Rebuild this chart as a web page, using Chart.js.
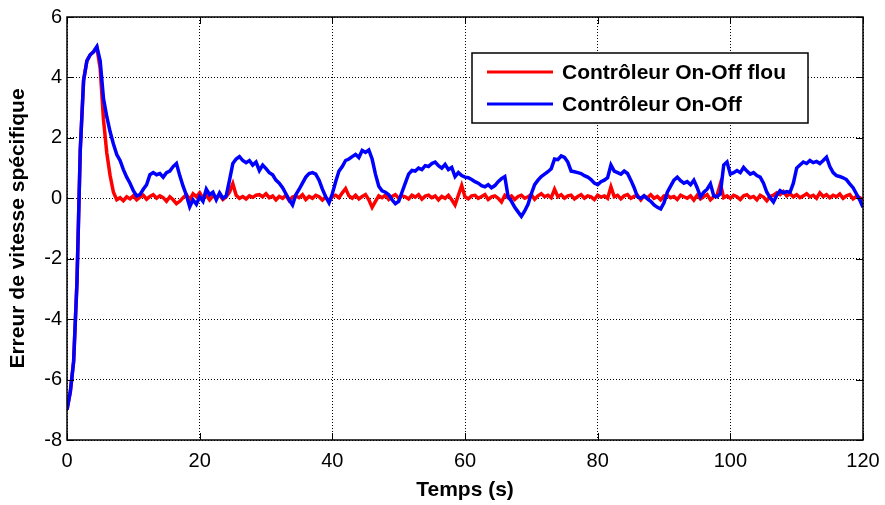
<!DOCTYPE html>
<html lang="fr">
<head>
<meta charset="utf-8">
<title>Erreur de vitesse spécifique</title>
<script src="https://cdn.jsdelivr.net/npm/chart.js@4.4.1/dist/chart.umd.min.js"></script>
<style>
    html, body { margin: 0; padding: 0; background: #fff; }
    #zone { position: relative; width: 885px; height: 505px; }
</style>
</head>
<body>
<div id="zone"><canvas id="graphique" width="885" height="505"></canvas></div>
<script>
// ================= DONNEES =================
const pasTemps = 0.5; // s, un point toutes les 0.5 s de 0 à 120 s

const nomsSeries = ["Contrôleur On-Off flou", "Contrôleur On-Off"];
const couleursSeries = ["#ff0000", "#0000ff"];

const ticksTemps = [0, 20, 40, 60, 80, 100, 120];
const ticksErreur = [-8, -6, -4, -2, 0, 2, 4, 6];

// Contrôleur On-Off flou (rouge)
const erreurFlou = [
    -7.0, -6.4, -5.4, -2.8, 1.6, 3.9, 4.55, 4.75, 4.85, 5.0,
    4.3, 2.6, 1.5, 0.75, 0.2, -0.05, 0.02, -0.08, 0.05, -0.02,
    0.08, -0.05, 0.04, 0.1, -0.03, 0.06, 0.12, 0.0, 0.08, 0.02,
    -0.1, 0.05, -0.05, -0.18, -0.1, 0.02, 0.12, -0.05, 0.15, 0.05,
    0.18, 0.0, 0.1, -0.05, 0.08, 0.02, 0.1, -0.04, 0.05, 0.2,
    0.48, 0.1, 0.0, 0.06, -0.02, 0.08, 0.03, 0.1, 0.12, 0.05,
    0.15, 0.02, 0.08, -0.05, 0.06, 0.0, 0.1, -0.08, 0.04, 0.08,
    0.02, 0.12, -0.04, 0.06, 0.0, 0.1, 0.05, -0.06, 0.04, -0.1,
    0.05, 0.1, 0.02, 0.18, 0.32, 0.08, 0.0, 0.1, -0.02, 0.06,
    0.12, -0.05, -0.3, -0.1, 0.08, 0.02, 0.1, -0.04, 0.06, 0.12,
    0.0, 0.08, 0.05, -0.02, 0.1, 0.04, 0.12, -0.03, 0.07, 0.1,
    0.02, 0.08, -0.05, 0.06, 0.0, 0.1, -0.05, -0.22, 0.1, 0.42,
    0.05, -0.02, 0.08, 0.1, 0.0, 0.06, 0.12, -0.04, 0.05, 0.08,
    0.0, -0.12, 0.1, 0.02, 0.08, -0.04, 0.06, 0.1, 0.0, 0.05,
    0.12, -0.03, 0.08, 0.15, 0.05, 0.1, 0.02, 0.3, 0.05, 0.12,
    0.0, 0.08, 0.1, -0.02, 0.06, 0.12, 0.0, 0.08, 0.05, -0.04,
    0.1, 0.04, 0.08, 0.0, 0.38, 0.05, 0.1, -0.02, 0.08, 0.12,
    0.0, 0.06, 0.1, -0.05, 0.08, 0.02, 0.12, 0.0, 0.06, -0.05,
    0.08, 0.1, 0.02, 0.06, -0.04, 0.1, 0.05, 0.0, 0.08, -0.06,
    0.1, -0.02, 0.06, 0.12, -0.05, 0.05, 0.1, 0.48, 0.02, 0.08,
    0.0, 0.1, 0.05, -0.04, 0.08, 0.12, 0.02, 0.06, -0.05, 0.1,
    0.04, -0.08, 0.06, 0.1, 0.18, 0.12, 0.22, 0.08, 0.15, 0.05,
    0.12, 0.02, 0.08, 0.15, 0.05, 0.1, 0.0, 0.18, 0.06, 0.12,
    0.02, 0.1, 0.05, 0.14, 0.0, 0.08, 0.12, -0.02, 0.06, 0.02,
    -0.05
];

// Contrôleur On-Off (bleu)
const erreurOnOff = [
    -7.0, -6.4, -5.4, -2.8, 1.6, 3.9, 4.55, 4.75, 4.85, 5.02,
    4.55, 3.3, 2.7, 2.2, 1.8, 1.45, 1.25, 0.95, 0.7, 0.5,
    0.25, 0.08, 0.12, 0.3, 0.45, 0.78, 0.85, 0.78, 0.82, 0.7,
    0.85, 0.9, 1.05, 1.15, 0.75, 0.4, 0.1, -0.28, -0.05, -0.2,
    0.05, -0.1, 0.3, 0.12, 0.2, -0.05, 0.18, 0.0, 0.08, 0.6,
    1.15, 1.3, 1.38, 1.25, 1.18, 1.25, 1.1, 1.2, 0.92, 1.1,
    0.98, 0.85, 0.78, 0.6, 0.5, 0.35, 0.15, -0.05, -0.22, 0.12,
    0.3, 0.5, 0.7, 0.82, 0.85, 0.8, 0.6, 0.3, 0.05, -0.15,
    0.15, 0.55, 0.9, 1.05, 1.25, 1.3, 1.38, 1.45, 1.35, 1.58,
    1.52, 1.6, 1.3, 0.8, 0.4, 0.25, 0.2, 0.12, -0.05, -0.18,
    -0.1, 0.2, 0.5, 0.8, 0.92, 0.9, 1.0, 0.95, 1.08, 1.05,
    1.15, 1.2, 1.08, 1.0, 1.12, 0.95, 1.02, 0.72, 0.85, 0.75,
    0.7, 0.68, 0.62, 0.55, 0.5, 0.42, 0.38, 0.45, 0.35, 0.42,
    0.55, 0.65, 0.72, 0.05, -0.1, -0.3, -0.45, -0.6, -0.42, -0.2,
    0.15, 0.45, 0.6, 0.72, 0.8, 0.88, 0.98, 1.3, 1.28, 1.4,
    1.35, 1.2, 0.9, 0.88, 0.85, 0.82, 0.75, 0.7, 0.62, 0.5,
    0.45, 0.55, 0.6, 0.68, 1.1, 0.9, 0.85, 0.8, 0.9, 0.82,
    0.6, 0.35, 0.05, 0.0, 0.08, -0.02, -0.1, -0.22, -0.3, -0.35,
    -0.15, 0.2, 0.4, 0.6, 0.7, 0.58, 0.5, 0.55, 0.45, 0.6,
    0.35, 0.05, 0.2, 0.3, 0.48, 0.08, 0.05, 0.15, 1.1, 1.2,
    0.8, 0.85, 0.92, 0.85, 1.02, 0.9, 0.8, 0.85, 0.75, 0.7,
    0.5, 0.2, 0.02, -0.12, 0.1, 0.25, 0.18, 0.22, 0.2, 0.5,
    1.0, 1.1, 1.2, 1.15, 1.25, 1.18, 1.22, 1.15, 1.25, 1.36,
    1.05, 0.85, 0.75, 0.72, 0.68, 0.62, 0.48, 0.35, 0.15, -0.05,
    -0.3
];

// ================= UTILITAIRES =================
function versPoints(valeurs) {
    return valeurs.map((v, i) => ({ x: i * pasTemps, y: v }));
}

const police = "'Liberation Sans', Arial, sans-serif";

// cadre noir, petites graduations internes et légende encadrée (style MATLAB)
const cadreEtLegende = {
    id: "cadreEtLegende",
    afterDraw(chart) {
        const ctx = chart.ctx;
        const a = chart.chartArea;
        const sx = chart.scales.x;
        const sy = chart.scales.y;

        ctx.save();
        ctx.strokeStyle = "#000";
        ctx.lineWidth = 1.5;
        ctx.strokeRect(a.left, a.top, a.right - a.left, a.bottom - a.top);

        // graduations vers l'intérieur
        ctx.lineWidth = 1;
        const lg = 7;
        ctx.beginPath();
        ticksTemps.forEach(t => {
            const px = Math.round(sx.getPixelForValue(t)) + 0.5;
            ctx.moveTo(px, a.bottom); ctx.lineTo(px, a.bottom - lg);
            ctx.moveTo(px, a.top); ctx.lineTo(px, a.top + lg);
        });
        ticksErreur.forEach(v => {
            const py = Math.round(sy.getPixelForValue(v)) + 0.5;
            ctx.moveTo(a.left, py); ctx.lineTo(a.left + lg, py);
            ctx.moveTo(a.right, py); ctx.lineTo(a.right - lg, py);
        });
        ctx.stroke();

        // légende
        const bx = 472, by = 53, bw = 336, bh = 70;
        ctx.fillStyle = "#fff";
        ctx.fillRect(bx, by, bw, bh);
        ctx.lineWidth = 1.5;
        ctx.strokeStyle = "#000";
        ctx.strokeRect(bx, by, bw, bh);

        ctx.font = "bold 21px " + police;
        ctx.textBaseline = "middle";
        ctx.textAlign = "left";
        nomsSeries.forEach((nom, i) => {
            const y = by + 19 + i * 32;
            ctx.strokeStyle = couleursSeries[i];
            ctx.lineWidth = 3;
            ctx.beginPath();
            ctx.moveTo(bx + 15, y);
            ctx.lineTo(bx + 81, y);
            ctx.stroke();
            ctx.fillStyle = "#000";
            ctx.fillText(nom, bx + 90, y + 1);
        });
        ctx.restore();
    }
};

// ================= GRAPHIQUE =================
new Chart(document.getElementById("graphique"), {
    type: "line",
    data: {
        datasets: [
            {
                label: nomsSeries[0],
                data: versPoints(erreurFlou),
                borderColor: couleursSeries[0],
                borderWidth: 3.5,
                pointRadius: 0,
                tension: 0,
                order: 1
            },
            {
                label: nomsSeries[1],
                data: versPoints(erreurOnOff),
                borderColor: couleursSeries[1],
                borderWidth: 3.5,
                pointRadius: 0,
                tension: 0,
                order: 0
            }
        ]
    },
    options: {
        responsive: false,
        animation: false,
        layout: { padding: { top: 15, right: 22, left: 0, bottom: 0 } },
        plugins: {
            legend: { display: false },
            tooltip: { enabled: false }
        },
        scales: {
            x: {
                type: "linear",
                min: 0,
                max: 120,
                afterFit: s => {
                    s.height = 65;
                    s.paddingLeft = 0;
                    s.paddingRight = 0;
                },
                afterBuildTicks: s => { s.ticks = ticksTemps.map(v => ({ value: v })); },
                ticks: {
                    color: "#000",
                    padding: 9,
                    maxRotation: 0,
                    font: { family: police, size: 20 }
                },
                grid: { color: "#000", lineWidth: 1, drawTicks: false },
                border: { display: false, dash: [1, 2] },
                title: {
                    display: true,
                    text: "Temps (s)",
                    color: "#000",
                    padding: { top: 0, bottom: 2 },
                    font: { family: police, size: 21, weight: "bold" }
                }
            },
            y: {
                type: "linear",
                min: -8,
                max: 6,
                afterFit: s => { s.width = 67; },
                afterBuildTicks: s => { s.ticks = ticksErreur.map(v => ({ value: v })); },
                ticks: {
                    color: "#000",
                    padding: 5,
                    font: { family: police, size: 20 }
                },
                grid: { color: "#000", lineWidth: 1, drawTicks: false },
                border: { display: false, dash: [1, 2] },
                title: {
                    display: true,
                    text: "Erreur de vitesse spécifique",
                    color: "#000",
                    padding: { top: 6, bottom: 0 },
                    font: { family: police, size: 21, weight: "bold" }
                }
            }
        }
    },
    plugins: [cadreEtLegende]
});
</script>
</body>
</html>
